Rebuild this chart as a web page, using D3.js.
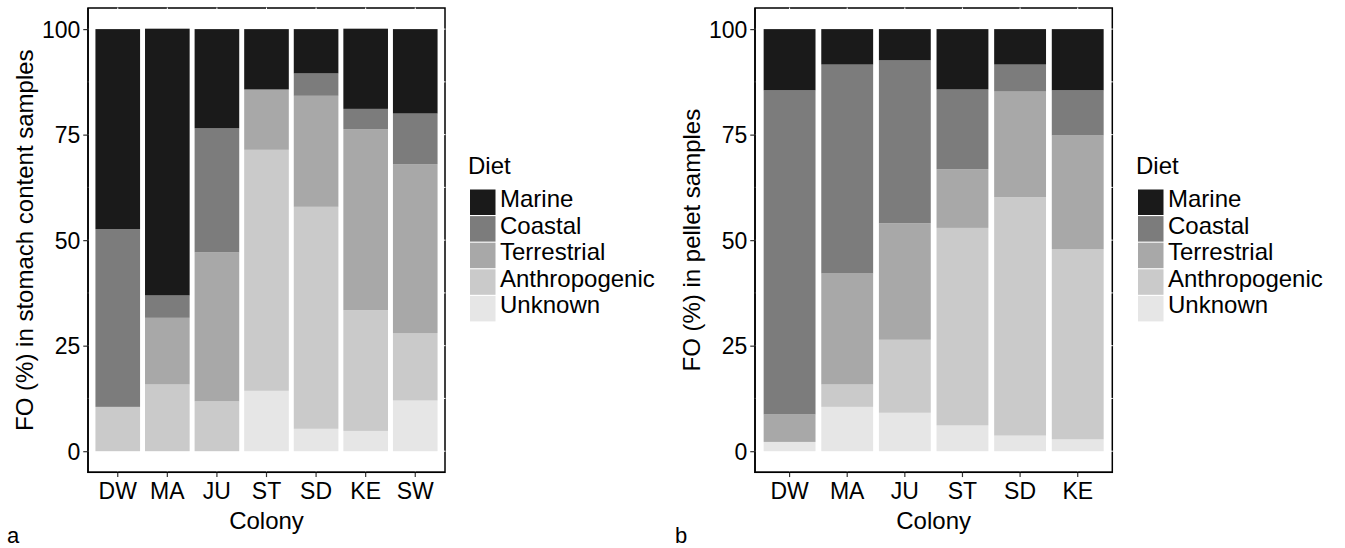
<!DOCTYPE html>
<html><head><meta charset="utf-8">
<script src="https://cdn.jsdelivr.net/npm/d3@7"></script>
<style>body{margin:0;background:#fff}svg{display:block}text{font-family:"Liberation Sans",Arial,sans-serif;fill:#000}</style>
</head><body><svg id="c" width="1345" height="548"></svg>
<script>
const diets = ["Marine","Coastal","Terrestrial","Anthropogenic","Unknown"];
const dietColors = ["#1a1a1a","#7c7c7c","#a8a8a8","#cacaca","#e6e6e6"];
const yTicks = [0,25,50,75,100];

// Panel a: stomach content samples
const coloniesA = ["DW","MA","JU","ST","SD","KE","SW"];
const marineA = [47.4, 63.2, 23.5, 14.3, 10.5, 19.0, 20.0];
const coastalA = [42.1, 5.3, 29.4, 0, 5.3, 4.8, 12.0];
const terrestrialA = [0, 15.8, 35.3, 14.3, 26.3, 42.9, 40.0];
const anthropogenicA = [10.5, 15.8, 11.8, 57.1, 52.6, 28.6, 16.0];
const unknownA = [0, 0, 0, 14.3, 5.3, 4.8, 12.0];

// Panel b: pellet samples
const coloniesB = ["DW","MA","JU","ST","SD","KE"];
const marineB = [14.5, 8.4, 7.4, 14.3, 8.4, 14.5];
const coastalB = [76.8, 49.5, 38.6, 18.9, 6.4, 10.7];
const terrestrialB = [6.5, 26.3, 27.6, 13.9, 25.0, 26.9];
const anthropogenicB = [0, 5.3, 17.3, 46.8, 56.5, 45.1];
const unknownB = [2.2, 10.5, 9.1, 6.1, 3.7, 2.8];

const svg = d3.select("#c");
const color = d3.scaleOrdinal().domain(diets).range(dietColors);

function rows(cols, m, c, t, a, u){
  return cols.map((k,i)=>({colony:k, Marine:m[i], Coastal:c[i], Terrestrial:t[i], Anthropogenic:a[i], Unknown:u[i]}));
}

function panel(o){
  const g = svg.append("g");
  const x = d3.scaleBand().domain(o.cols).range([o.x0,o.x1]).paddingInner(0.1).paddingOuter(0.15);
  const y = d3.scaleLinear().domain([-5,105]).range([o.y1,o.y0]);
  g.append("rect").attr("x",o.x0).attr("y",o.y0).attr("width",o.x1-o.x0).attr("height",o.y1-o.y0)
    .attr("fill","#fff").attr("stroke","#000").attr("stroke-width",1.5);
  const gy = d3.range(0,101,12.5);
  g.selectAll(".gy").data(gy).join("line").attr("x1",o.x0-0.5).attr("x2",o.x1+0.5)
    .attr("y1",d=>y(d)).attr("y2",d=>y(d)).attr("stroke","#fff").attr("stroke-width",1);
  g.selectAll(".gx").data(o.cols).join("line").attr("y1",o.y0-0.5).attr("y2",o.y1+0.5)
    .attr("x1",d=>x(d)+x.bandwidth()/2).attr("x2",d=>x(d)+x.bandwidth()/2).attr("stroke","#fff").attr("stroke-width",1);
  const stack = d3.stack().keys(diets.slice().reverse());
  const series = stack(o.data);
  g.selectAll(".s").data(series).join("g").attr("fill",d=>color(d.key))
    .selectAll("rect").data(d=>d).join("rect")
    .attr("x",d=>x(d.data.colony)).attr("width",x.bandwidth())
    .attr("y",d=>y(d[1])).attr("height",d=>Math.max(0,y(d[0])-y(d[1])));
  g.append("line").attr("x1",o.x0).attr("x2",o.x0).attr("y1",o.y0).attr("y2",o.y1+0.75).attr("stroke","#000").attr("stroke-width",1.5);
  g.append("line").attr("x1",o.x0).attr("x2",o.x1).attr("y1",o.y1).attr("y2",o.y1).attr("stroke","#000").attr("stroke-width",1.5);
  const ya = g.append("g").attr("transform",`translate(${o.x0-0.75},0)`)
    .call(d3.axisLeft(y).tickValues(yTicks).tickSize(4).tickPadding(3));
  ya.select(".domain").remove();
  ya.selectAll("line").attr("stroke","#333").attr("stroke-width",1.2);
  ya.selectAll("text").attr("font-size",23).attr("fill","#000").attr("dy","0.36em");
  const xa = g.append("g").attr("transform",`translate(0,${o.y1+0.75})`)
    .call(d3.axisBottom(x).tickSize(4).tickPadding(6));
  xa.select(".domain").remove();
  xa.selectAll("line").attr("stroke","#333").attr("stroke-width",1.2);
  xa.selectAll("text").attr("font-size",23).attr("fill","#000");
  g.append("text").attr("x",(o.x0+o.x1)/2).attr("y",529).attr("text-anchor","middle").attr("font-size",24).text("Colony");
  g.append("text").attr("transform",`translate(${o.ytx},${(o.y0+o.y1)/2}) rotate(-90)`).attr("text-anchor","middle")
    .attr("font-size",24).text(o.ytitle);
  g.append("text").attr("x",o.tagx).attr("y",542.5).attr("font-size",22).text(o.tag);
  const lg = g.append("g").attr("transform",`translate(${o.lx},0)`);
  lg.append("text").attr("x",-2).attr("y",174).attr("font-size",24).text("Diet");
  const items = lg.selectAll(".li").data(diets).join("g").attr("transform",(d,i)=>`translate(0,${189.5+i*26.6})`);
  items.append("rect").attr("width",25.5).attr("height",25.5).attr("fill",d=>color(d));
  items.append("text").attr("x",30).attr("y",17.5).attr("font-size",24).text(d=>d);
}

panel({cols:coloniesA, data:rows(coloniesA,marineA,coastalA,terrestrialA,anthropogenicA,unknownA),
  x0:88, x1:445, y0:8, y1:472.3, ytitle:"FO (%) in stomach content samples", ytx:33, tag:"a", tagx:7, lx:470});
panel({cols:coloniesB, data:rows(coloniesB,marineB,coastalB,terrestrialB,anthropogenicB,unknownB),
  x0:755, x1:1112.3, y0:8, y1:472.3, ytitle:"FO (%) in pellet samples", ytx:700, tag:"b", tagx:675, lx:1138});
</script></body></html>
